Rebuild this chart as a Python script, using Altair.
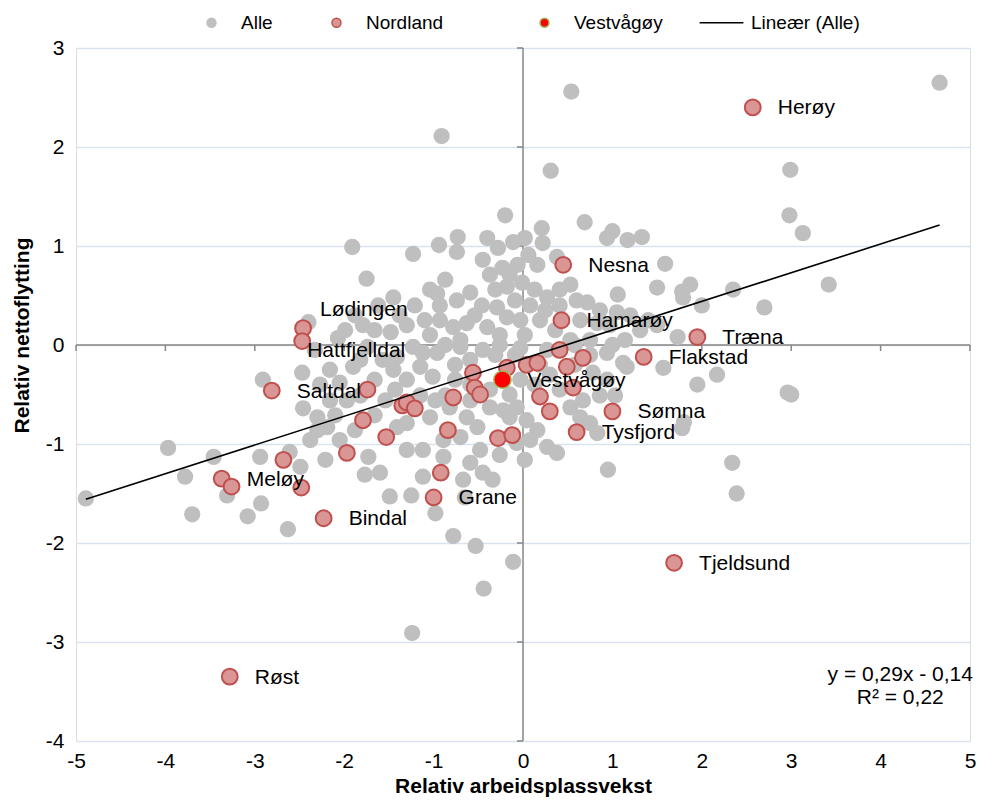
import altair as alt
import pandas as pd

# ---------------- data ----------------
alle_x = [
    4.66, 0.54, -0.91, 0.31, 2.99, 2.98, 3.13, 3.42, 2.70, 2.35, 1.87, 1.78, 1.59, 1.50, 1.79, 2.00,
    1.33, 1.17, 1.00, 0.94, 0.69, -0.20, 0.21, -0.73, -0.40, -1.91, -1.23, -0.94, -1.75, -1.45, -1.62,
    -0.96, -1.79, -1.48, -1.30, -2.40, -2.07,
    -0.28, -0.11, 0.02, 0.22, -0.74, -0.45, 0.06, 0.38, -0.23, -0.06, 0.16, 1.06, 0.53, 0.41, 0.27,
    -0.18, -0.01, -0.59, -0.74, -0.46, -0.29, 0.08, 0.60, 0.72, 0.86, 1.05, -0.78, -0.63, -0.40, -0.18,
    0.19, 0.64, 0.83, -0.37, -0.15, -0.31, 0.13, -0.09, 0.25, 0.41, -0.03, -0.54, -0.26, 0.02, 0.36,
    0.53, 0.75, 0.97, 1.20, -0.93, -1.04, -0.70,
    -2.91, -2.47, -2.46, -2.30, -2.19, -2.05, -1.97, -2.94, -2.61, -2.49, -2.21, -1.73, -1.77, -1.60,
    -1.12, -1.90, -1.82, -1.45, -1.30, -1.15, -1.01, -0.96, -1.12, -1.41, -1.57, -1.74, -1.23, -1.04,
    -1.12, -1.30, -0.89, -0.89, -1.41, -1.30, -2.30, -2.38, -2.16, -2.10, -1.88, -2.05, -1.66, -1.54,
    -1.43, -1.15, -0.98, -1.66, -1.82, -2.27, -2.16, -2.33, -1.99, -1.88, -1.66, -1.38, -1.21, -1.10,
    -0.93, -0.87, -1.04,
    -4.89, -3.97, -3.78, -3.70, -3.46, -3.31, -3.08, -2.63, -2.93,
    -1.49, -1.25, -0.98, -0.78, -0.53, -0.11, -0.44, -1.24, -0.65,
    -0.70, -0.45, 0.94, 1.12, 0.78, 0.94, 0.67, 0.53, 0.64, 0.75, 0.83, -0.07, -0.15, 0.04, 0.16,
    -0.07, 0.08, 0.27, 0.38, -0.63, -0.51, -0.70, -0.48, -0.59, -0.45, -0.34, -0.67, 0.95, 0.27,
    -0.37, -0.22, -0.82, -0.03, 0.13, 0.30, 0.41, 0.19, -0.09, -0.31, -0.59, -0.76, -0.87, -0.59,
    0.86, 1.03, 0.58, -0.26, -0.03, 0.58, -0.87, -0.76, 0.75, -0.37, -0.15, -0.59, -0.26, 0.02,
    1.73, 1.57, 1.16, 1.95, 2.17, 2.96, 3.00, 1.78, 1.80, 2.34, 2.39, 1.40, 1.50, 1.31, 1.14, 1.00,
]
alle_y = [
    2.65, 2.56, 2.11, 1.76, 1.77, 1.31, 1.13, 0.61, 0.38, 0.56, 0.61, 0.54, 0.82, 0.58, 0.48, 0.40,
    1.09, 1.06, 1.15, 1.08, 1.24, 1.31, 1.18, 1.09, 1.08, 0.99, 0.92, 1.01, 0.67, 0.48, 0.40,
    0.52, 0.20, 0.13, 0.20, 0.23, 0.07,
    0.98, 1.04, 1.08, 1.03, 0.94, 0.86, 0.91, 0.89, 0.78, 0.81, 0.81, 0.51, 0.61, 0.56, 0.48,
    0.59, 0.63, 0.53, 0.45, 0.40, 0.38, 0.40, 0.45, 0.43, 0.35, 0.33, 0.18, 0.22, 0.18, 0.28,
    0.25, 0.25, 0.22, 0.71, 0.71, 0.56, 0.56, 0.45, 0.35, 0.40, 0.25, 0.30, 0.10, 0.10, 0.15,
    0.05, 0.05, 0.20, 0.30, 0.25, 0.10, 0.05,
    -0.35, -0.28, -0.64, -0.73, -0.83, -0.38, -0.56, -1.13, -1.08, -1.23, -1.16, -1.13, -1.31, -1.29,
    -1.33, -0.22, -0.15, -0.25, -0.35, -0.22, -0.32, -0.08, -0.08, -0.12, -0.15, -0.02, -0.02, -0.73,
    -1.06, -1.06, -1.13, -0.96, -0.83, -0.79, -0.86, -0.96, -0.56, -0.71, -0.86, -0.96, -0.71, -0.56,
    -0.45, -0.51, -0.56, -0.35, -0.51, -0.40, -0.25, -0.05, 0.15, 0.30, 0.15, 0.30, 0.40, 0.25,
    0.40, 0.66, 0.56,
    -1.55, -1.04, -1.33, -1.71, -1.13, -1.52, -1.73, -1.86, -1.60,
    -1.53, -1.52, -1.70, -1.93, -2.03, -2.19, -2.46, -2.91, -1.54,
    -0.02, -0.05, -0.08, -0.18, -0.28, -0.35, -0.56, -0.63, -0.73, -0.79, -0.89, -0.63, -0.73, -0.76, -0.86,
    -0.99, -0.96, -1.03, -1.09, -0.73, -0.83, -0.93, -1.06, -1.19, -1.29, -1.36, -1.36, -1.26, -0.05,
    -0.63, -0.66, -0.63, -0.35, -0.40, -0.30, -0.45, -0.20, -0.10, -0.10, -0.15, -0.35, -0.51, -0.56,
    -0.51, -0.51, -0.20, 0.00, -0.03, 0.00, 0.00, -0.20, -0.10, -0.45, -0.50, -0.40, -1.11, -1.16,
    0.08, -0.23, -0.22, -0.40, -0.30, -0.48, -0.50, -0.84, -0.78, -1.19, -1.50, 0.25, 0.20, 0.15, 0.05, 0.00,
]

nordland_navn = [
    "Herøy", "Nesna", "Hamarøy", "Træna", "Flakstad", "Lødingen", "Hattfjelldal", "Saltdal",
    "Sømna", "Tysfjord", "Meløy", "", "Bindal", "Grane", "Tjeldsund", "Røst",
    "", "", "", "", "", "", "", "", "", "", "", "", "", "", "", "", "", "", "", "", "", "", "", "", "", "",
]
nordland_x = [
    2.57, 0.45, 0.43, 1.95, 1.35, -2.46, -2.47, -2.81,
    1.00, 0.60, -3.37, -3.26, -2.23, -1.00, 1.69, -3.28,
    -2.68, -2.48, -1.74, -1.79, -1.53, -1.97, -1.35, -1.30, -1.21, -0.92, -0.84, -0.56, -0.54, -0.48,
    -0.78, -0.18, 0.04, 0.16, 0.41, 0.49, 0.67, 0.56, 0.19, 0.30, -0.28, -0.12,
]
nordland_y = [
    2.40, 0.81, 0.25, 0.08, -0.12, 0.17, 0.04, -0.46,
    -0.67, -0.88, -1.35, -1.43, -1.75, -1.54, -2.20, -3.35,
    -1.16, -1.44, -0.45, -0.76, -0.93, -1.09, -0.61, -0.58, -0.64, -1.29, -0.86, -0.28, -0.43, -0.50,
    -0.53, -0.23, -0.20, -0.18, -0.05, -0.22, -0.13, -0.43, -0.52, -0.67, -0.94, -0.91,
]

vestvagoy_x = [-0.23]
vestvagoy_y = [-0.35]

# trend line printed in the chart: y = 0,29x - 0,14 ; R² = 0,22
slope = 0.29
intercept = -0.14
equation_lines = ["y = 0,29x - 0,14", "R² = 0,22"]
equation_x = [4.22, 4.22]
equation_y = [-3.33, -3.57]

x_ticks = list(range(-5, 6))
y_ticks = list(range(-4, 4))
groups = ["Alle", "Nordland", "Vestvågøy", "Lineær (Alle)"]

# ---------------- tables ----------------
FONT = "Liberation Sans"
alle_df = pd.DataFrame({"x": alle_x, "y": alle_y, "Gruppe": "Alle"})
nord_df = pd.DataFrame({"x": nordland_x, "y": nordland_y, "navn": nordland_navn, "Gruppe": "Nordland"})
vest_df = pd.DataFrame({"x": vestvagoy_x, "y": vestvagoy_y, "navn": ["Vestvågøy"], "Gruppe": "Vestvågøy"})
all_x = alle_x + nordland_x + vestvagoy_x
x0, x1 = min(all_x), max(all_x)
line_df = pd.DataFrame({"x": [x0, x1], "y": [slope * x0 + intercept, slope * x1 + intercept],
                        "Gruppe": "Lineær (Alle)"})
label_df = pd.concat([nord_df, vest_df], ignore_index=True)
label_df = label_df[label_df["navn"] != ""]
eq_df = pd.DataFrame({"x": equation_x, "y": equation_y, "t": equation_lines})
xtick_df = pd.DataFrame({"x": x_ticks, "y": 0})
ytick_df = pd.DataFrame({"x": 0, "y": y_ticks})

# ---------------- scales / axes ----------------
xs = alt.Scale(domain=[-5, 5], nice=False, zero=False)
ys = alt.Scale(domain=[-4, 3], nice=False, zero=False)

xaxis = alt.Axis(values=x_ticks, title="Relativ arbeidsplassvekst", grid=False, domain=False, ticks=False,
                 labelFont=FONT, labelFontSize=21, labelColor="black", labelPadding=20,
                 labelBaseline="middle", labelFlush=False, labelOverlap=False,
                 labelExpr="'' + datum.value",
                 titleFont=FONT, titleFontSize=21, titleFontWeight="bold", titleColor="black",
                 titleX=447, titleY=51, titleAlign="center", titleBaseline="alphabetic")
yaxis = alt.Axis(values=y_ticks, title="Relativ nettoflytting", grid=True, gridColor="#d9e3f0",
                 gridWidth=1.3, domain=False, ticks=False,
                 labelFont=FONT, labelFontSize=21, labelColor="black", labelPadding=12,
                 labelOverlap=False, labelExpr="'' + datum.value",
                 titleFont=FONT, titleFontSize=21, titleFontWeight="bold", titleColor="black",
                 titleX=-54, titleY=287, titleAlign="center", titleBaseline="middle", titleAngle=-90)

X = alt.X("x:Q", scale=xs, axis=xaxis)
Y = alt.Y("y:Q", scale=ys, axis=yaxis)

# legend entries are spaced as in the original by padding the labels with invisible blanks
NBSP = "\u00a0"
ZWSP = "\u200b"
legend_label_expr = (
    "datum.label == 'Alle' ? 'Alle" + NBSP * 4 + ZWSP + "' : "
    "datum.label == 'Nordland' ? 'Nordland" + NBSP * 11 + ZWSP + "' : datum.label"
)
legend = alt.Legend(title=None, orient="none", direction="horizontal", legendX=126, legendY=-35,
                    symbolSize=80, symbolStrokeWidth=1.5, labelFont=FONT, labelFontSize=19,
                    labelColor="black", labelOffset=20, columnPadding=33, padding=0,
                    labelExpr=legend_label_expr)
fill_scale = alt.Scale(domain=groups, range=["#bfbfbf", "#d99694", "#ff0000", "transparent"])
stroke_scale = alt.Scale(domain=groups, range=["#bfbfbf", "#c0504d", "#9bbb59", "#000000"])
shape_scale = alt.Scale(domain=groups, range=["circle", "circle", "circle", "M-4.9,0L4.9,0"])
FILL = alt.Fill("Gruppe:N", scale=fill_scale, legend=legend)
STROKE = alt.Stroke("Gruppe:N", scale=stroke_scale, legend=legend)
SHAPE = alt.Shape("Gruppe:N", scale=shape_scale, legend=legend)

AXIS_GREY = "#868686"

# ---------------- layers ----------------
vline = alt.Chart(pd.DataFrame({"x": [0]})).mark_rule(color=AXIS_GREY, strokeWidth=1.5).encode(x=X)
hline = alt.Chart(pd.DataFrame({"y": [0]})).mark_rule(color=AXIS_GREY, strokeWidth=1.5).encode(y=Y)
xticks = alt.Chart(xtick_df).mark_tick(orient="vertical", size=6, thickness=1.5, color=AXIS_GREY,
                                       yOffset=3, opacity=1).encode(x=X, y=Y)
yticks = alt.Chart(ytick_df).mark_tick(orient="horizontal", size=6, thickness=1.5, color=AXIS_GREY,
                                       xOffset=-3, opacity=1).encode(x=X, y=Y)

alle = alt.Chart(alle_df).mark_point(filled=True, size=265, opacity=1, strokeWidth=0).encode(
    x=X, y=Y, fill=FILL, stroke=STROKE, shape=SHAPE)
nord = alt.Chart(nord_df).mark_point(filled=True, size=250, opacity=1, strokeWidth=2).encode(
    x=X, y=Y, fill=FILL, stroke=STROKE, shape=SHAPE)
vest = alt.Chart(vest_df).mark_point(filled=True, size=300, opacity=1, strokeWidth=1.5).encode(
    x=X, y=Y, fill=FILL, stroke=STROKE, shape=SHAPE)
trend = alt.Chart(line_df).mark_line(strokeWidth=1.6).encode(x=X, y=Y, stroke=STROKE)

txt = dict(font=FONT, fontSize=21, color="black", baseline="middle", align="left")
labels_main = alt.Chart(label_df).transform_filter(
    "datum.navn != 'Lødingen' && datum.navn != 'Hattfjelldal'"
).mark_text(dx=25, dy=1, **txt).encode(x=X, y=Y, text="navn:N")
label_lod = alt.Chart(label_df).transform_filter("datum.navn == 'Lødingen'").mark_text(
    dx=17, dy=-18, **txt).encode(x=X, y=Y, text="navn:N")
label_hat = alt.Chart(label_df).transform_filter("datum.navn == 'Hattfjelldal'").mark_text(
    dx=5, dy=10, **txt).encode(x=X, y=Y, text="navn:N")
equation = alt.Chart(eq_df).mark_text(font=FONT, fontSize=21, color="black", baseline="middle",
                                      align="center").encode(x=X, y=Y, text="t:N")

chart = alt.layer(
    vline, hline, xticks, yticks, alle, nord, vest, trend, labels_main, label_lod, label_hat, equation
).properties(
    width=894, height=693,
    padding={"left": 68, "top": 40, "right": 9, "bottom": 56},
    autosize=alt.AutoSizeParams(type="none"),
).configure_view(stroke=None).configure(background="white")

chart.save("out.html", embed_options={"renderer": "svg", "actions": False})
